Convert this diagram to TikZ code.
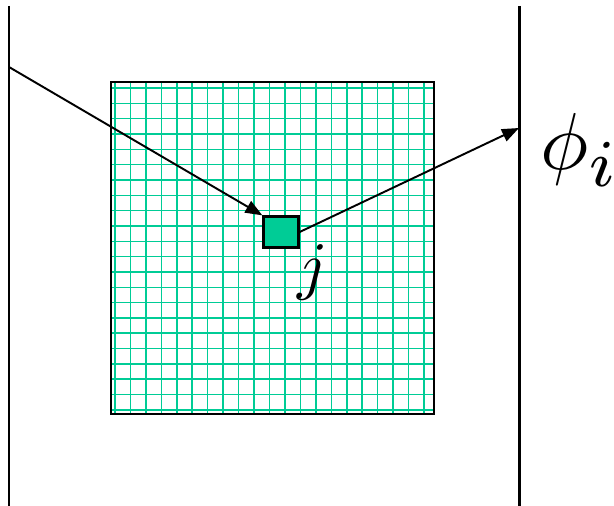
\documentclass[tikz,border=0pt]{standalone}
\definecolor{meshgreen}{RGB}{0, 204, 150}
\usepackage{tikz}
\usepackage{amsmath}
\usetikzlibrary{arrows.meta,positioning,calc}
\begin{document}
\begin{tikzpicture}[x=0.02cm, y=-0.02cm,
    wall/.style={line width=1.7pt},
    ray/.style={line width=1.1pt, -{Triangle[length=0.34cm,width=0.26cm]}},
    gridline/.style={meshgreen, line width=0.9pt}]
    \useasboundingbox (0,0) rectangle (614,506);
    % Walls
    \draw[wall] (9,6) -- (9,506);
    \draw[wall] (519,6) -- (519,506);
    % Mesh
    \foreach \k in {0,...,20} {
        \draw[gridline] ({115+15.45*\k},82) -- ({115+15.45*\k},414);
    }
    \foreach \k in {0,...,21} {
        \draw[gridline] (111,{88+15.33*\k}) -- (434,{88+15.33*\k});
    }
    \node[draw, line width=1.4pt, minimum width=6.46cm, minimum height=6.64cm,
          inner sep=0pt] (mesh) at (272.5,248) {};
    % Cell j
    \node[draw, fill=meshgreen, line width=1.3pt, minimum width=0.70cm,
          minimum height=0.62cm, inner sep=0pt] (cell) at (281,232) {};
    \node[scale=3.7] (jlabel) at (313,272) {$j$};
    % Rays
    \coordinate (src) at (9,67);
    \coordinate (tgt) at (519,128);
    \draw[ray] (src) -- (cell.north west);
    \draw[ray] (cell.east) -- (tgt);
    \node[scale=4.6, inner sep=0pt] (philabel) at (580,150) {$\phi_{\scalebox{1.18}{$\scriptstyle i$}}$};
\end{tikzpicture}
\end{document}
